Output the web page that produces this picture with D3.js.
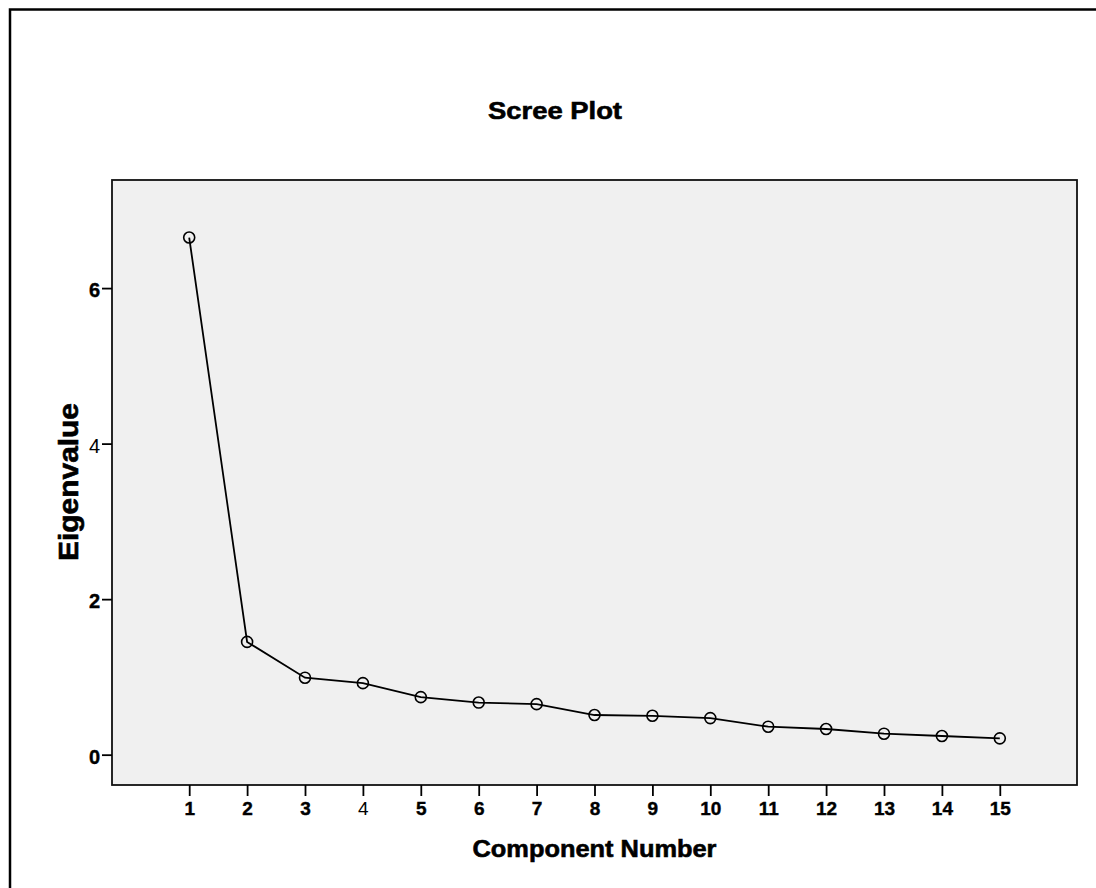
<!DOCTYPE html>
<html>
<head>
<meta charset="utf-8">
<script src="https://cdn.jsdelivr.net/npm/d3@7"></script>
<style>
  html, body { margin: 0; padding: 0; background: #ffffff; }
  svg { display: block; }
  text { font-family: "Liberation Sans", Arial, sans-serif; fill: #000; }
</style>
</head>
<body>
<script>
// ---- data ----
const components = [1, 2, 3, 4, 5, 6, 7, 8, 9, 10, 11, 12, 13, 14, 15];
const eigenvalues = [6.65, 1.45, 0.99, 0.92, 0.74, 0.67, 0.65, 0.51, 0.50, 0.47, 0.36, 0.33, 0.27, 0.24, 0.21];
const yTicks = [0, 2, 4, 6];
const xTicks = components;
const title = "Scree Plot";
const xTitle = "Component Number";
const yTitle = "Eigenvalue";

const W = 1096, H = 888;
const plot = { left: 112, top: 180, right: 1077, bottom: 785 };

const svg = d3.select("body").append("svg").attr("width", W).attr("height", H);

// outer frame
svg.append("rect")
  .attr("x", 10).attr("y", 9.5)
  .attr("width", W + 20).attr("height", H + 20)
  .attr("fill", "none").attr("stroke", "#000").attr("stroke-width", 2.5);

const x = d3.scaleLinear().domain([-1 / 3, 16 + 1 / 3]).range([plot.left, plot.right]);
const y = d3.scaleLinear().domain([-0.39, 7.39]).range([plot.bottom, plot.top]);

// plot background
svg.append("rect")
  .attr("x", plot.left).attr("y", plot.top)
  .attr("width", plot.right - plot.left).attr("height", plot.bottom - plot.top)
  .attr("fill", "#f0f0f0").attr("stroke", "#111").attr("stroke-width", 1.8);

// x axis
const xAxis = d3.axisBottom(x).tickValues(xTicks).tickSize(11).tickSizeOuter(0).tickPadding(6).tickFormat(d3.format("d"));
const gx = svg.append("g").attr("transform", `translate(0,${plot.bottom})`).call(xAxis);
gx.select(".domain").remove();
gx.selectAll(".tick line").attr("stroke", "#000").attr("stroke-width", 1.8);
gx.selectAll(".tick text")
  .style("font-size", "19px").style("font-weight", d => d === 4 ? "normal" : "bold")
  .attr("stroke", d => d === 4 ? "none" : "#000").attr("stroke-width", 0.4)
  .style("font-family", "Liberation Sans, Arial, sans-serif").attr("fill", "#000");

// y axis
const yAxis = d3.axisLeft(y).tickValues(yTicks).tickSize(10).tickSizeOuter(0).tickPadding(2).tickFormat(d3.format("d"));
const gy = svg.append("g").attr("transform", `translate(${plot.left},0)`).call(yAxis);
gy.select(".domain").remove();
gy.selectAll(".tick line").attr("stroke", "#000").attr("stroke-width", 1.8);
gy.selectAll(".tick text")
  .style("font-size", "20px").style("font-weight", d => d === 4 ? "normal" : "bold")
  .attr("stroke", d => d === 4 ? "none" : "#000").attr("stroke-width", 0.4)
  .attr("dy", "0.42em")
  .style("font-family", "Liberation Sans, Arial, sans-serif").attr("fill", "#000");

// line
const line = d3.line().x((d, i) => x(components[i])).y(d => y(d));
svg.append("path").datum(eigenvalues)
  .attr("d", line).attr("fill", "none").attr("stroke", "#000").attr("stroke-width", 1.8);

// markers
svg.append("g").selectAll("circle").data(eigenvalues).join("circle")
  .attr("cx", (d, i) => x(components[i])).attr("cy", d => y(d))
  .attr("r", 5.5).attr("fill", "none").attr("stroke", "#000").attr("stroke-width", 1.6);

// titles
svg.append("text").text(title)
  .attr("x", 555).attr("y", 119).attr("text-anchor", "middle")
  .attr("font-size", 24).attr("font-weight", "bold")
  .attr("stroke", "#000").attr("stroke-width", 0.6)
  .attr("textLength", 134).attr("lengthAdjust", "spacingAndGlyphs");

svg.append("text").text(xTitle)
  .attr("x", 594.5).attr("y", 857).attr("text-anchor", "middle")
  .attr("font-size", 24).attr("font-weight", "bold")
  .attr("stroke", "#000").attr("stroke-width", 0.6)
  .attr("textLength", 244).attr("lengthAdjust", "spacingAndGlyphs");

svg.append("text").text(yTitle)
  .attr("transform", "translate(78,482) rotate(-90)")
  .attr("text-anchor", "middle")
  .attr("font-size", 27).attr("font-weight", "bold")
  .attr("stroke", "#000").attr("stroke-width", 0.6)
  .attr("textLength", 158).attr("lengthAdjust", "spacingAndGlyphs");
</script>
</body>
</html>
